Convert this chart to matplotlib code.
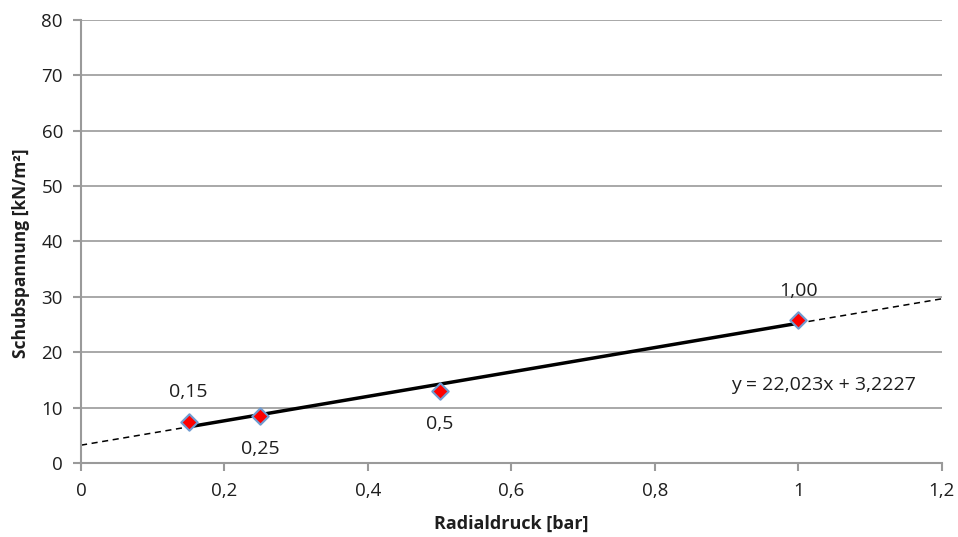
import numpy as np
import matplotlib.pyplot as plt

# Messpunkte
radialdruck = [0.15, 0.25, 0.5, 1.0]
schubspannung = [7.4, 8.5, 13.0, 25.8]
punkt_labels = ['0,15', '0,25', '0,5', '1,00']
label_dy = [30, -33, -33, 29]  # in pixels, + = above

# Trendlinie
slope = 22.023
intercept = 3.2227
x_ticks = [0, 0.2, 0.4, 0.6, 0.8, 1.0, 1.2]
x_ticklabels = ['0', '0,2', '0,4', '0,6', '0,8', '1', '1,2']
y_ticks = [0, 10, 20, 30, 40, 50, 60, 70, 80]

plt.rcParams['font.family'] = ['Open Sans', 'DejaVu Sans']

fig = plt.figure(figsize=(9.58, 5.37), dpi=100)
ax = fig.add_axes([0.0846, 0.1378, 0.8984, 0.825])

gray = '#9a9a9a'
txt = '#1e1e1e'

# trend line, dashed over full range
xd = np.array([0, 1.2])
ax.plot(xd, slope * xd + intercept, color='black', lw=1.1, ls=(0, (4, 3)), zorder=2)
# solid part between the data points
xs = np.array([min(radialdruck), max(radialdruck)])
ax.plot(xs, slope * xs + intercept, color='black', lw=2.5, zorder=3)

ax.scatter(radialdruck, schubspannung, marker='D', s=70, facecolor='#ff0000',
           edgecolor='#6f9bd1', linewidth=1.5, zorder=4)

for x, y, lab, dy in zip(radialdruck, schubspannung, punkt_labels, label_dy):
    ax.annotate(lab, (x, y), xytext=(0, dy * 0.72), textcoords='offset points',
                ha='center', va='center', fontsize=14, color=txt)

ax.text(1.0355, 14.1, 'y = 22,023x + 3,2227', ha='center', va='center',
        fontsize=14, color=txt)

ax.set_xlim(0, 1.2)
ax.set_ylim(0, 80)
ax.set_xticks(x_ticks)
ax.set_xticklabels(x_ticklabels)
ax.set_yticks(y_ticks)

ax.yaxis.grid(True, color=gray, lw=1.2)
ax.set_axisbelow(True)
for s in ['top', 'right']:
    ax.spines[s].set_visible(False)
for s in ['left', 'bottom']:
    ax.spines[s].set_color(gray)
    ax.spines[s].set_linewidth(1.5)
ax.tick_params(colors=gray, length=6, width=1.5, labelcolor=txt, labelsize=13.5)
ax.tick_params(axis='x', pad=8)
ax.tick_params(axis='y', pad=7)

ax.set_xlabel('Radialdruck [bar]', fontsize=13, fontweight='bold', color=txt)
ax.set_ylabel('Schubspannung [kN/m²]', fontsize=12.5, fontweight='bold', color=txt)
ax.xaxis.set_label_coords(0.5, -0.116)
ax.yaxis.set_label_coords(-0.059, 0.474)

fig.savefig('out.png', dpi=100)
